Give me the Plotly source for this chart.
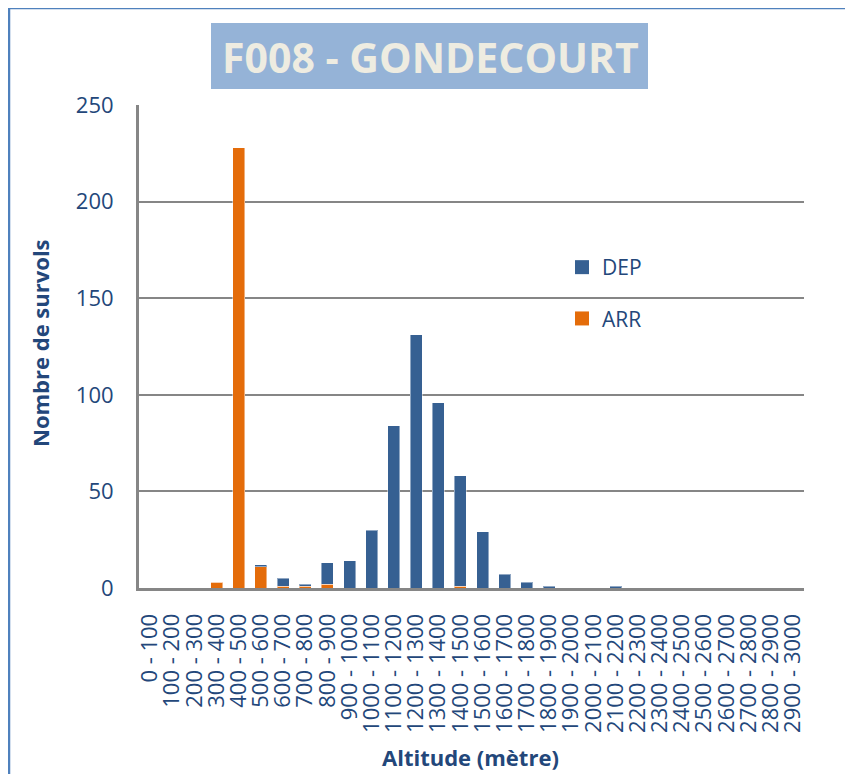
import plotly.graph_objects as go

categories = [f"{i*100} - {(i+1)*100}" for i in range(30)]
arr_values = [0, 0, 0, 3, 228, 11, 1, 1, 2, 0, 0, 0, 0, 0, 1, 0, 0, 0, 0, 0, 0, 0, 0, 0, 0, 0, 0, 0, 0, 0]
dep_values = [0, 0, 0, 0, 0, 1, 4, 1, 11, 14, 30, 84, 131, 96, 57, 29, 7, 3, 1, 0, 0, 1, 0, 0, 0, 0, 0, 0, 0, 0]
y_ticks = [0, 50, 100, 150, 200, 250]
series_names = ["DEP", "ARR"]
series_colors = {"DEP": "#366092", "ARR": "#E46C0A"}

TXT = "#23477A"
FONT = "Open Sans"
OFF = 8  # page body margin

fig = go.Figure()
fig.add_trace(go.Bar(x=categories, y=arr_values, name="ARR", showlegend=False,
                     marker=dict(color=series_colors["ARR"], line=dict(color="rgba(255,255,255,0.45)", width=1))))
fig.add_trace(go.Bar(x=categories, y=dep_values, name="DEP", showlegend=False,
                     marker=dict(color=series_colors["DEP"], line=dict(color="rgba(255,255,255,0.45)", width=1))))
# legend entries (square swatches)
for nm in series_names:
    fig.add_trace(go.Scatter(x=[None], y=[None], mode="markers", name=nm, legendgroup=nm,
                             marker=dict(symbol="square", size=14, color=series_colors[nm])))

FW, FH = 853 - OFF, 774 - OFF
L, R, T, B = 139 - OFF, 804 - OFF, 105 - OFF, 588 - OFF
W, H = R - L, B - T
def px(x):
    return (x - OFF - L) / W
def py(y):
    return (B - (y - OFF)) / H

shapes = [
    dict(type="rect", xref="paper", yref="paper", x0=px(9), x1=px(849), y0=py(8), y1=py(800),
         line=dict(color="#4F81BD", width=2.5), fillcolor="rgba(0,0,0,0)", layer="below"),
    dict(type="rect", xref="paper", yref="paper", x0=px(211), x1=px(648), y0=py(23), y1=py(89),
         line=dict(width=0), fillcolor="#95B3D7", layer="below"),
]

annotations = [
    dict(text="<b>F008 - GONDECOURT</b>", xref="paper", yref="paper", x=px(430), y=py(57),
         showarrow=False, font=dict(family=FONT, size=41, color="#EEECE1"), xanchor="center", yanchor="middle"),
    dict(text="<b>Nombre de survols</b>", xref="paper", yref="paper", x=px(40), y=py(343),
         showarrow=False, textangle=-90, font=dict(family=FONT, size=22, color=TXT), xanchor="center", yanchor="middle"),
    dict(text="<b>Altitude (mètre)</b>", xref="paper", yref="paper", x=px(470), y=py(757),
         showarrow=False, font=dict(family=FONT, size=22, color=TXT), xanchor="center", yanchor="middle"),
]

fig.update_layout(
    width=FW, height=FH,
    margin=dict(l=L, r=FW - R, t=T, b=FH - B, autoexpand=False),
    paper_bgcolor="white", plot_bgcolor="white",
    barmode="stack", bargap=0.46,
    font=dict(family=FONT, color=TXT),
    shapes=shapes, annotations=annotations,
    showlegend=True,
    legend=dict(x=px(562), y=py(247), xanchor="left", yanchor="top",
                traceorder="grouped", tracegroupgap=21,
                font=dict(family=FONT, size=21, color=TXT), bgcolor="rgba(0,0,0,0)"),
    xaxis=dict(type="category", tickmode="linear", dtick=1, tick0=0, tickangle=-90,
               tickfont=dict(family=FONT, size=22, color=TXT),
               showline=True, linecolor="#868686", linewidth=3, showgrid=False,
               ticks="", ticklabelstandoff=14, automargin=False),
    yaxis=dict(range=[0, 250], tickvals=y_ticks, tickfont=dict(family=FONT, size=22, color=TXT),
               showline=True, linecolor="#868686", linewidth=3,
               showgrid=True, gridcolor="#868686", gridwidth=1.5, zeroline=False,
               ticks="", ticklabelstandoff=18, automargin=False),
)

fig.write_html("out.html")
